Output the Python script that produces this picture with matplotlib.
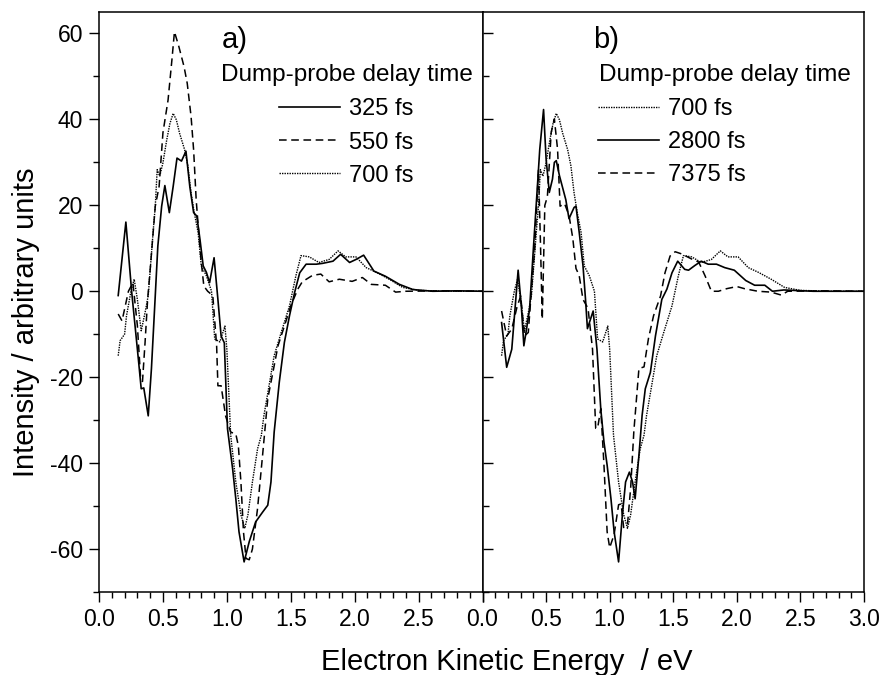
import matplotlib
matplotlib.use("Agg")
import matplotlib.pyplot as plt
from matplotlib.ticker import MultipleLocator

plt.rcParams["font.family"] = ["Liberation Sans", "DejaVu Sans"]
plt.rcParams["axes.unicode_minus"] = False

# ---- data (energy / eV, intensity / arb. units) ----
x_325 = [0.15, 0.21, 0.255, 0.31, 0.33, 0.35, 0.385, 0.41, 0.44, 0.46, 0.49, 0.515,
         0.55, 0.58, 0.61, 0.645, 0.68, 0.71, 0.74, 0.765, 0.79, 0.815, 0.84, 0.865,
         0.90, 0.93, 0.955, 0.98, 1.005, 1.045, 1.07, 1.095, 1.135, 1.175, 1.225,
         1.28, 1.32, 1.345, 1.37, 1.41, 1.45, 1.49, 1.53, 1.57, 1.62, 1.70, 1.75,
         1.83, 1.89, 1.96, 2.01, 2.07, 2.15, 2.24, 2.35, 2.455, 2.61, 2.8, 3.0]
y_325 = [-1, 16.1, 0, -16.5, -22.7, -22.5, -29, -18, -1, 10.5, 19.8, 24.6,
         18.3, 24.4, 31, 30.3, 32.6, 24.4, 18.3, 17.5, 12, 5.9, 4.4, 2,
         7.8, -1.9, -10.4, -12, -32, -41.3, -48.3, -56, -63, -58.3, -53.7,
         -51.4, -49.8, -44.4, -32.8, -21.2, -11.9, -5.7, -0.3, 4.3, 6.3, 6.3, 6.5,
         7, 8.6, 6.7, 7.4, 8.4, 4.7, 3.5, 1.6, 0.4, 0, 0.1, 0]

x_550 = [0.15, 0.18, 0.23, 0.265, 0.30, 0.325, 0.34, 0.36, 0.38, 0.40, 0.44, 0.47,
         0.50, 0.54, 0.57, 0.59, 0.625, 0.665, 0.69, 0.72, 0.74, 0.76, 0.78, 0.80,
         0.82, 0.85, 0.89, 0.92, 0.93, 0.955, 0.99, 1.03, 1.07, 1.09, 1.11, 1.13,
         1.15, 1.175, 1.20, 1.24, 1.28, 1.32, 1.36, 1.40, 1.45, 1.50, 1.555, 1.59,
         1.67, 1.735, 1.80, 1.88, 1.98, 2.06, 2.13, 2.24, 2.32, 2.4, 2.7, 3.0]
y_550 = [-5.3, -6.9, 0, 2, -8, -20, -21, -12, -2, 5, 19.8, 24.4,
         36.9, 44.5, 53.8, 60.4, 56.9, 52.3, 48.4, 40.7, 32.9, 21.3, 13.6, 6.7,
         1.2, 0, -1, -12.7, -22, -22, -29, -32.8, -33.2, -36, -44.4, -56,
         -62.2, -62.5, -60, -50.6, -38, -25, -18.9, -12.7, -8.1, -3.4, 0.5, 2.2,
         3.7, 4, 2.2, 2.8, 2.3, 3.2, 1.6, 1.4, -0.2, 0, 0.1, 0]

x_700 = [0.15, 0.165, 0.2, 0.215, 0.25, 0.275, 0.30, 0.33, 0.36, 0.385, 0.425,
         0.44, 0.455, 0.475, 0.50, 0.53, 0.555, 0.58, 0.605, 0.63, 0.67, 0.695,
         0.72, 0.745, 0.775, 0.80, 0.84, 0.88, 0.905, 0.945, 0.985, 1.0, 1.03,
         1.07, 1.11, 1.14, 1.165, 1.20, 1.24, 1.27, 1.29, 1.33, 1.37, 1.425, 1.49,
         1.54, 1.58, 1.645, 1.72, 1.80, 1.87, 1.93, 2.01, 2.09, 2.17, 2.27, 2.375,
         2.5, 2.75, 3.0]
y_700 = [-15, -11.5, -10, -5.7, 0, 2.8, -1.9, -9.2, -5, -1, 14.5,
         19.8, 28.3, 26.8, 29.9, 35.3, 39.1, 41.4, 39.9, 36.8, 32.9, 29.2,
         22.9, 18.3, 13.7, 5.9, 3.6, 0, -11.1, -11.8, -8.1, -13.5, -33.5,
         -44.4, -52, -55.2, -52, -44.4, -36.7, -33.5, -28.9, -22, -15, -9.6, -3.4,
         3.6, 8.3, 8, 6.7, 7.4, 9.4, 8, 8, 5.5, 4.4, 2.8, 0.9,
         0.2, 0, 0]

x_2800 = [0.15, 0.19, 0.23, 0.28, 0.305, 0.325, 0.345, 0.37, 0.40, 0.43, 0.45,
          0.48, 0.50, 0.525, 0.55, 0.565, 0.58, 0.605, 0.655, 0.68, 0.72, 0.735,
          0.76, 0.79, 0.81, 0.825, 0.87, 0.90, 0.93, 0.955, 0.98, 1.01, 1.035,
          1.07, 1.10, 1.125, 1.155, 1.18, 1.20, 1.23, 1.255, 1.28, 1.32, 1.36,
          1.41, 1.45, 1.49, 1.535, 1.59, 1.62, 1.67, 1.72, 1.775, 1.84, 1.905,
          1.98, 2.07, 2.14, 2.22, 2.28, 2.37, 2.6, 3.0]
y_2800 = [-7.3, -17.7, -13.5, 4.9, -3.4, -12.7, -9, -4.2, 9.9, 23.7, 33,
          42.3, 30.8, 23, 26.1, 30, 30.4, 26.9, 21.3, 16.9, 19.5, 19.8,
          13.8, 6, -1.9, -8.7, -4.6, -13.5, -27.4, -35.1, -40.5, -48.3, -56,
          -63, -52, -44.4, -42.1, -44.4, -48.3, -38.2, -28.9, -22.7, -18.9, -10.4,
          -1.9, 0.5, 4.3, 7, 5.1, 4.9, 6, 7, 6.3, 6.3, 5.5,
          4.9, 2.5, 1.4, 1.4, 0, 0.3, 0, 0]

x_7375 = [0.15, 0.19, 0.23, 0.27, 0.30, 0.33, 0.36, 0.385, 0.41, 0.44, 0.455,
          0.47, 0.49, 0.51, 0.54, 0.565, 0.59, 0.61, 0.645, 0.68, 0.71, 0.735,
          0.76, 0.79, 0.83, 0.865, 0.89, 0.905, 0.93, 0.955, 0.98, 1.0, 1.035,
          1.07, 1.09, 1.11, 1.14, 1.165, 1.19, 1.23, 1.27, 1.305, 1.345, 1.40,
          1.435, 1.475, 1.515, 1.565, 1.645, 1.70, 1.75, 1.80, 1.855, 1.92, 2.0,
          2.06, 2.165, 2.27, 2.35, 2.4, 2.7, 3.0]
y_7375 = [-4.6, -10.4, -8.8, -3.8, -1.1, -10.4, -9.6, 0.5, 9.7, 28.3, 12,
          -6.5, 20, 22, 37, 40.1, 33.1, 19.8, 20.4, 17.7, 12.3, 5.3,
          3.7, -1.9, -4, -13.5, -31.9, -31.9, -27.3, -40.4, -56, -59.7, -56.6,
          -49.7, -49.5, -55, -54.3, -45.8, -32.6, -18, -17.6, -11, -5.7, -1.1,
          4.3, 8.2, 9.2, 8.7, 7.5, 6.8, 3.6, 0, 0, 0.6, 1.1,
          0.6, 0, -0.2, -0.9, 0, 0.1, 0]

SOLID = "-"
DASHED = (0, (5, 3))
DOTTED = (0, (1, 0.8))

fig = plt.figure(figsize=(8.81, 6.75), dpi=100)
ax_a = fig.add_axes([0.1124, 0.1230, 0.4353, 0.8592])
ax_b = fig.add_axes([0.5477, 0.1230, 0.4330, 0.8592], sharey=ax_a)

ax_a.plot(x_325, y_325, color="black", lw=1.2, ls=SOLID, label="325 fs")
ax_a.plot(x_550, y_550, color="black", lw=1.1, ls=DASHED, label="550 fs")
ax_a.plot(x_700, y_700, color="black", lw=1.0, ls=DOTTED, label="700 fs")

ax_b.plot(x_700, y_700, color="black", lw=1.0, ls=DOTTED, label="700 fs")
ax_b.plot(x_2800, y_2800, color="black", lw=1.2, ls=SOLID, label="2800 fs")
ax_b.plot(x_7375, y_7375, color="black", lw=1.1, ls=DASHED, label="7375 fs")


def fmt_a(v, pos):
    # the shared boundary is labelled by panel b ("0.0"), so drop 3.0 here
    return "" if v > 2.95 else f"{v:.1f}"


for ax in (ax_a, ax_b):
    ax.set_xlim(0.0, 3.0)
    ax.set_ylim(-70, 65)
    ax.xaxis.set_major_locator(MultipleLocator(0.5))
    ax.xaxis.set_minor_locator(MultipleLocator(0.1))
    ax.yaxis.set_major_locator(MultipleLocator(20))
    ax.yaxis.set_minor_locator(MultipleLocator(10))
    for sp in ax.spines.values():
        sp.set_linewidth(1.1)
    ax.tick_params(axis="both", which="major", length=7.5, width=1.0, labelsize=16.5)
    ax.tick_params(axis="both", which="minor", length=4, width=1.0)
    ax.tick_params(axis="x", which="both", direction="out", top=False, pad=4)

ax_a.xaxis.set_major_formatter(plt.FuncFormatter(fmt_a))
ax_b.xaxis.set_major_formatter(plt.FuncFormatter(lambda v, p: f"{v:.1f}"))

ax_a.tick_params(axis="y", which="both", direction="out", right=False, pad=4)
ax_b.tick_params(axis="y", which="both", direction="in", left=True, right=False,
                 labelleft=False)

legend_kw = dict(frameon=False, fontsize=17, handlelength=2.6, handletextpad=0.38,
                 labelspacing=0.47, borderpad=0, borderaxespad=0, loc="upper left")

ax_a.text(0.321, 0.952, "a)", transform=ax_a.transAxes, fontsize=21, va="center")
ax_a.text(0.318, 0.891, "Dump-probe delay time", transform=ax_a.transAxes,
          fontsize=17.5, va="center")
ax_a.legend(bbox_to_anchor=(0.468, 0.851), **legend_kw)

ax_b.text(0.29, 0.952, "b)", transform=ax_b.transAxes, fontsize=21, va="center")
ax_b.text(0.305, 0.891, "Dump-probe delay time", transform=ax_b.transAxes,
          fontsize=17.5, va="center")
ax_b.legend(bbox_to_anchor=(0.303, 0.852), **legend_kw)

fig.text(0.575, 0.008, "Electron Kinetic Energy  / eV", fontsize=21,
         ha="center", va="baseline")
fig.text(0.03, 0.523, "Intensity / arbitrary units", fontsize=21,
         rotation=90, ha="center", va="center")

fig.savefig("out.png", dpi=100)
